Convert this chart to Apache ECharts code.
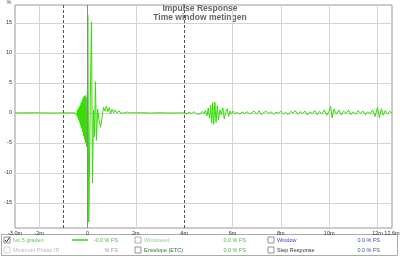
<!DOCTYPE html>
<html>
<head>
<meta charset="utf-8">
<script src="https://cdn.jsdelivr.net/npm/echarts@6/dist/echarts.min.js"></script>
<style>
html,body{margin:0;padding:0;background:#fff;}
#c{width:400px;height:257px;}
</style>
</head>
<body>
<div id="c"></div>
<script>
// ---- data (time in ms, amplitude in % FS) ----
const leadT = [-3.0, -2.2, -1.4, -0.8, -0.52];
const leadV = [0, 0.02, -0.02, 0.01, 0];

const preRingT = [-0.50,-0.48,-0.46,-0.44,-0.42,-0.40,-0.38,-0.36,-0.34,-0.32,-0.30,-0.28,-0.26,-0.24,-0.22,-0.20,-0.18,-0.16,-0.14,-0.12,-0.10,-0.08,-0.06,-0.04,-0.02];
const preRingV = [0.1,-0.2,0.3,-0.45,0.5,-0.8,0.7,-1.2,1.0,-1.6,1.3,-2.1,1.7,-2.6,2.1,-3.2,2.5,-3.8,2.8,-4.4,2.9,-5.0,2.6,-5.6,2.0];

const pulseT = [0.0, 0.012, 0.054, 0.11, 0.165, 0.206, 0.25, 0.29, 0.33, 0.37, 0.42, 0.47, 0.54];
const pulseV = [4.0, 16.3, -18.2, 1.0, 15.2, -11.7, 0.5, -4.0, 5.2, -4.6, 0.6, -1.0, -2.4];

const ringT = [0.60,0.66,0.72,0.78,0.84,0.90,0.96,1.02,1.08,1.14,1.22,1.30,1.38,1.46,1.55,1.65,1.75,1.85,1.95,2.2,2.6,3.0,3.4,3.8];
const ringV = [-0.8,0.9,0.3,1.1,0.2,0.9,-0.1,0.6,0.0,0.5,0.0,0.35,-0.05,0.25,0.0,0.15,-0.05,0.1,0.0,0.03,-0.02,0.02,-0.02,0.0];

const burstT = [4.00,4.06,4.12,4.20,4.30,4.40,4.50,4.58,4.66,4.74,4.82,4.88,4.94,5.00,5.05,5.10,5.14,5.18,5.22,5.27,5.32,5.37,5.42,5.48,5.54,5.60,5.66,5.72,5.78,5.84,5.90,5.96,6.02,6.10];
const burstV = [0.0,0.25,-0.2,0.15,-0.1,0.2,-0.15,0.1,-0.2,0.25,-0.1,0.4,-0.5,0.8,-0.9,1.3,-1.7,1.7,-1.9,1.8,-1.6,1.2,-1.2,0.5,-0.3,0.8,-1.0,0.2,0.7,-0.6,0.3,-0.2,0.3,-0.15];

const tailT = [6.2,6.3,6.4,6.5,6.6,6.7,6.8,6.9,7.0,7.1,7.2,7.3,7.4,7.5,7.6,7.7,7.8,7.9,8.0,8.1,8.2,8.3,8.4,8.5,8.6,8.7,8.8,8.9,9.0,9.1,9.2,9.3,9.4,9.5,9.6,9.7,9.8,9.9,10.0,10.06,10.12,10.2,10.3,10.4,10.5,10.6,10.7,10.8,10.9,11.0,11.1,11.2,11.3,11.4,11.5,11.6,11.7,11.8,11.9,12.0,12.08,12.16,12.24,12.32,12.42,12.5,12.6];
const tailV = [0.1,-0.2,0.15,-0.1,0.2,-0.15,0.05,0.3,-0.2,0.35,-0.3,0.1,0.25,-0.1,0.2,-0.25,0.15,-0.05,0.3,-0.2,0.1,-0.3,0.25,0.0,0.35,-0.25,0.2,-0.1,0.3,-0.35,0.2,-0.1,0.4,-0.3,0.25,-0.2,0.5,-0.4,0.3,1.1,-0.8,0.6,-0.2,0.5,-0.35,0.3,-0.1,0.45,-0.3,0.2,-0.25,0.4,-0.1,0.3,-0.3,0.2,-0.15,0.5,-0.6,0.9,-0.8,0.7,-0.4,0.4,-0.2,0.25,0.0];

const xLabelValues = [-3, -2, 0, 2, 4, 6, 8, 10, 12, 12.6];
const xGridValues = [-2, 2, 6, 8, 10, 12];
const yTickValues = [-15, -10, -5, 0, 5, 10, 15];
const windowMarkers = [-1, 4];
const zeroMarker = [0];

// ---- build ----
const timeMs = [].concat(leadT, preRingT, pulseT, ringT, burstT, tailT);
const amp = [].concat(leadV, preRingV, pulseV, ringV, burstV, tailV);
const points = timeMs.map((t, i) => [t, amp[i]]);

const FONT = 'Liberation Sans, Arial, sans-serif';
const chart = echarts.init(document.getElementById('c'), null, {renderer: 'canvas'});

function txt(x, y, s, color, align, extra) {
  return Object.assign({
    type: 'text', x: x, y: y, silent: true,
    style: {text: s, fill: color, font: '5.5px ' + FONT, align: align || 'left', verticalAlign: 'middle'}
  }, extra || {});
}
function box(x, y, checked, color) {
  const g = [{type: 'rect', shape: {x: x, y: y - 3, width: 6, height: 6}, style: {fill: '#fff', stroke: color || '#777', lineWidth: 0.8}, silent: true}];
  if (checked) g.push({type: 'polyline', shape: {points: [[x + 1, y], [x + 2.5, y + 2], [x + 5.5, y - 2.5]]}, style: {stroke: '#333', lineWidth: 1, fill: null}, silent: true});
  return g;
}

const r1 = 240, r2 = 250;
const graphics = [
  {type: 'text', x: 200, y: 9, silent: true, style: {text: 'Impulse Response', fill: '#666', font: 'bold 8.5px ' + FONT, align: 'center', verticalAlign: 'middle'}},
  {type: 'text', x: 200, y: 18, silent: true, style: {text: 'Time window metingen', fill: '#666', font: 'bold 8.5px ' + FONT, align: 'center', verticalAlign: 'middle'}},
  txt(9, 2, '%', '#555', 'center', {}),
  {type: 'rect', shape: {x: 1.5, y: 234.5, width: 396, height: 21}, style: {fill: '#fff', stroke: '#aaa', lineWidth: 1}, silent: true},
  ...box(4, r1, true, '#777'),
  txt(13, r1, 'Ivo 5 graden', '#5cc85c'),
  {type: 'line', shape: {x1: 72, y1: r1, x2: 88, y2: r1}, style: {stroke: '#33dd00', lineWidth: 1.5}, silent: true},
  txt(118, r1, '-0.0 % FS', '#44bb44', 'right'),
  ...box(135, r1, false, '#999'),
  txt(144, r1, 'Windowed', '#99cc99'),
  txt(246, r1, '0.0 % FS', '#44bb44', 'right'),
  ...box(268, r1, false, '#777'),
  txt(277, r1, 'Window', '#3344cc'),
  txt(380, r1, '0.0 % FS', '#3344cc', 'right'),
  ...box(4, r2, false, '#ccc'),
  txt(13, r2, 'Minimum Phase IR', '#bbbbbb'),
  txt(118, r2, '% FS', '#999999', 'right'),
  ...box(135, r2, false, '#777'),
  txt(144, r2, 'Envelope (ETC)', '#2a7a2a'),
  txt(246, r2, '0.0 % FS', '#44bb44', 'right'),
  ...box(268, r2, false, '#777'),
  txt(277, r2, 'Step Response', '#333333'),
  txt(380, r2, '0.0 % FS', '#445577', 'right')
];

const option = {
  animation: false,
  backgroundColor: '#ffffff',
  textStyle: {fontFamily: FONT},
  grid: {left: 15, right: 8, top: 5, bottom: 29, show: true, borderColor: '#999', borderWidth: 1, containLabel: false, outerBoundsMode: 'none'},
  xAxis: {
    type: 'value', min: -3, max: 12.6,
    axisLine: {show: false},
    axisTick: {show: false, customValues: xGridValues},
    splitLine: {show: true, lineStyle: {color: '#d4d4d4', width: 1}},
    axisLabel: {
      customValues: xLabelValues, fontSize: 5.5, color: '#333', margin: 2,
      formatter: v => v === -3 ? '-3.0m' : (v === 0 ? '0' : v + 'm')
    }
  },
  yAxis: {
    type: 'value', min: -19.2, max: 18,
    axisLine: {show: false},
    axisTick: {show: false, customValues: yTickValues},
    splitLine: {show: true, lineStyle: {color: '#d4d4d4', width: 1}},
    axisLabel: {customValues: yTickValues, fontSize: 5.5, color: '#333', margin: 3}
  },
  graphic: graphics,
  series: [{
    type: 'line',
    data: points,
    showSymbol: false,
    symbol: 'none',
    smooth: false,
    lineStyle: {color: '#33dd00', width: 1},
    itemStyle: {color: '#33dd00'},
    markLine: {
      silent: true, symbol: 'none', label: {show: false},
      data: [
        ...windowMarkers.map(v => ({xAxis: v, lineStyle: {color: '#555', type: [3, 2], width: 1}})),
        ...zeroMarker.map(v => ({xAxis: v, lineStyle: {color: '#888', type: 'solid', width: 1}}))
      ]
    }
  }]
};
chart.setOption(option);
</script>
</body>
</html>
